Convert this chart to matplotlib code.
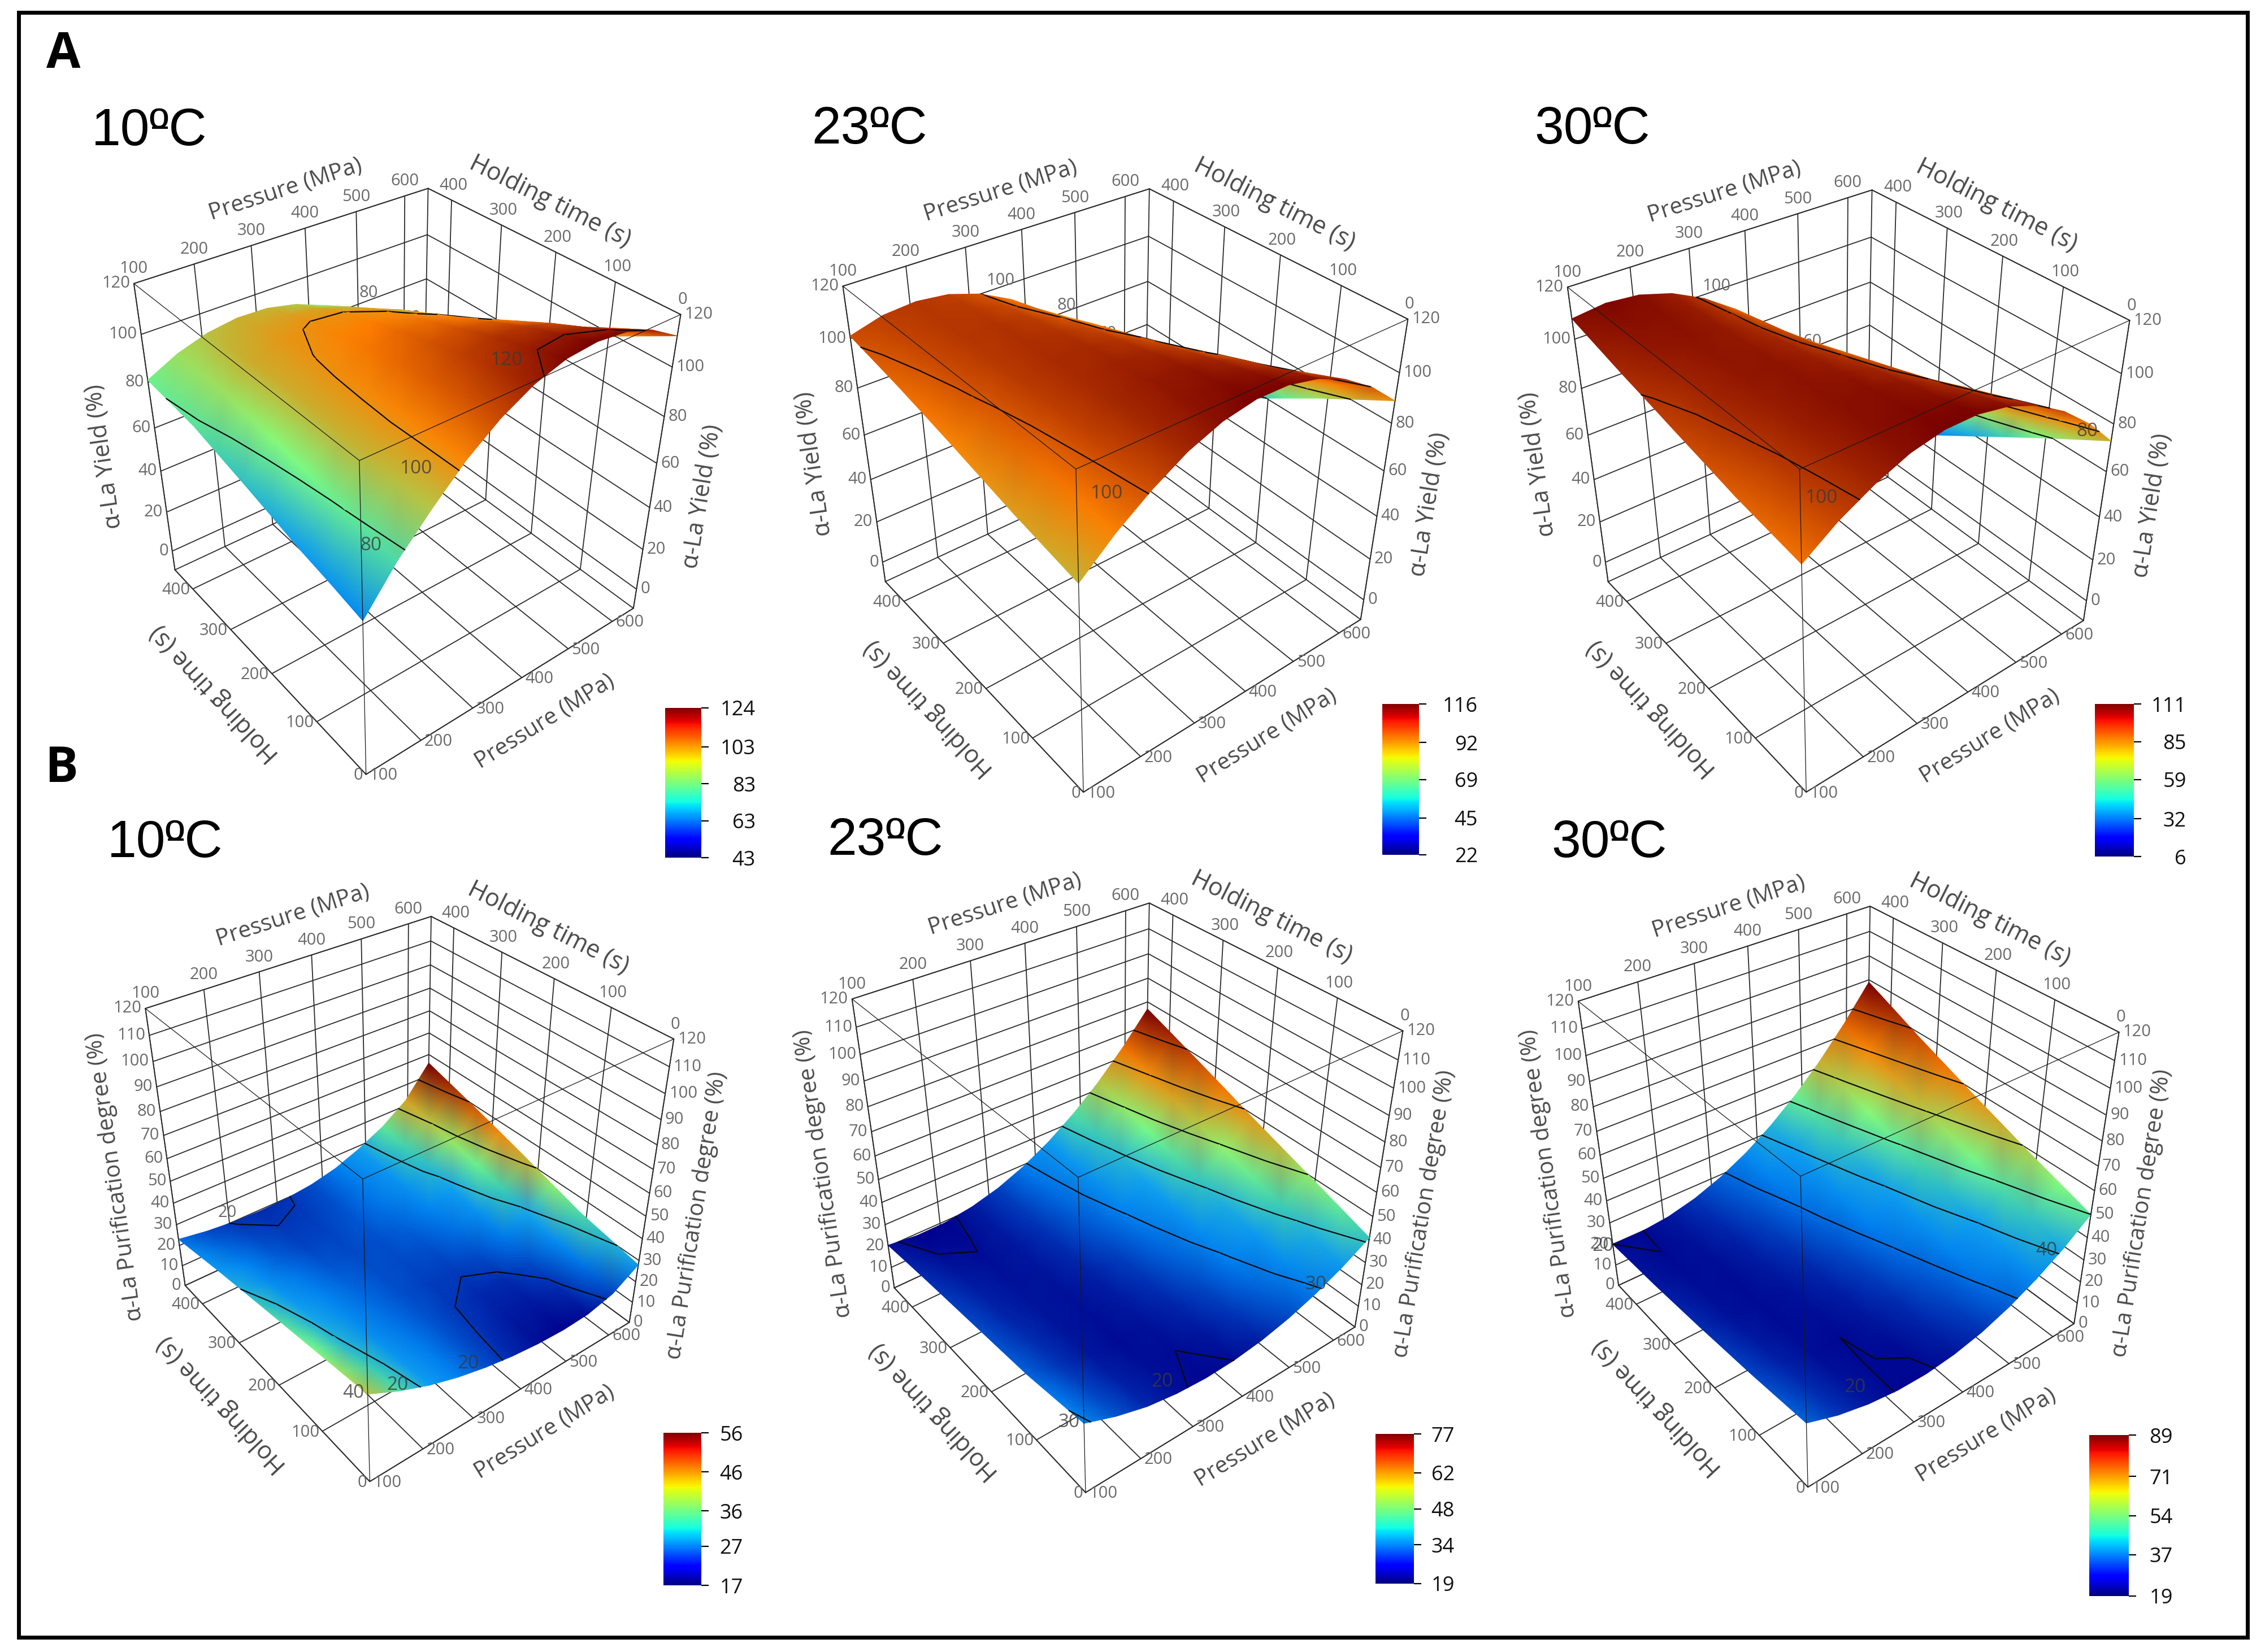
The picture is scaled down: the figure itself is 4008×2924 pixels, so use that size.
import numpy as np
import matplotlib
matplotlib.use("Agg")
import matplotlib.pyplot as plt
from matplotlib.collections import LineCollection
from matplotlib.colors import LinearSegmentedColormap, Normalize
from matplotlib.cm import ScalarMappable
from matplotlib.patches import Rectangle

plt.rcParams['font.family'] = ['Open Sans', 'DejaVu Sans']

W, H = 4008, 2924
PX = 72 / 100.0  # points per pixel at dpi 100

pressure = [100, 155, 210, 265, 320, 375, 430, 485, 540, 595, 650]
holding = [0, 56.25, 112.5, 168.75, 225, 281.25, 337.5, 393.75, 450]

# rows = holding time, columns = pressure
yield_10 = [
    [60.5, 77, 90.4, 102.6, 112, 118.8, 122.8, 124, 122.8, 118.8, 112],
    [63.5, 79, 91.6, 102.5, 110.7, 116.3, 119.2, 119.4, 117.1, 112.2, 104.5],
    [66, 80.7, 92.8, 102.4, 109.4, 113.8, 115.6, 114.8, 111.4, 105.5, 97],
    [69.3, 82.6, 93.4, 101.6, 107.4, 110.6, 111.3, 109.4, 105.1, 98.2, 88.8],
    [72.5, 84.4, 93.9, 100.8, 105.3, 107.4, 106.9, 104, 98.7, 90.8, 80.5],
    [75.5, 86, 94.2, 99.8, 103.1, 104, 102.4, 98.4, 92.1, 83.2, 72],
    [78.5, 87.6, 94.4, 98.8, 100.8, 100.5, 97.8, 92.8, 85.4, 75.6, 63.5],
    [79.8, 87.5, 92.9, 96, 96.8, 95.3, 91.5, 85.4, 77, 66.3, 53.3],
    [81, 87.3, 91.3, 93.1, 92.7, 90, 85.1, 77.9, 68.5, 56.9, 43],
]
yield_23 = [
    [80, 91.5, 100.8, 108.4, 113.4, 115.8, 115.6, 112.8, 107.4, 99.5, 89],
    [82.5, 93.5, 102.1, 108.5, 112.3, 113.6, 112.3, 108.4, 101.9, 92.8, 81.2],
    [85, 95.4, 103.3, 108.5, 111.2, 111.4, 108.9, 103.9, 96.3, 86.1, 73.4],
    [88, 97.3, 104, 108.1, 109.7, 108.7, 105.1, 99, 90.3, 79, 65.1],
    [91, 99.1, 104.7, 107.7, 108.1, 106, 101.3, 94, 84.2, 71.8, 56.8],
    [93.8, 100.7, 105.2, 107, 106.3, 103, 97.2, 88.8, 77.8, 64.3, 48.2],
    [96.5, 102.3, 105.6, 106.3, 104.4, 100, 93.1, 83.5, 71.4, 56.8, 39.6],
    [98.8, 103.5, 105.6, 105.2, 102.2, 96.7, 88.7, 78, 64.8, 49.1, 30.8],
    [101, 104.6, 105.6, 104.1, 100, 93.4, 84.2, 72.5, 58.2, 41.4, 22],
]
yield_30 = [
    [87, 96, 102.9, 108.1, 110.7, 110.7, 108.3, 103.3, 95.7, 85.6, 73],
    [89, 97.6, 103.8, 107.8, 109.3, 108.2, 104.7, 98.5, 89.8, 78.6, 64.8],
    [91, 99.1, 104.6, 107.5, 107.9, 105.7, 101, 93.7, 83.9, 71.5, 56.5],
    [93.8, 100.8, 105.2, 107, 106.3, 103, 97.1, 88.7, 77.7, 64.2, 48],
    [96.5, 102.4, 105.7, 106.5, 104.6, 100.2, 93.2, 83.7, 71.5, 56.8, 39.5],
    [99.3, 104, 106.3, 106, 103, 97.5, 89.3, 78.7, 65.4, 49.5, 31],
    [102, 105.7, 106.9, 105.4, 101.3, 94.7, 85.4, 73.6, 59.2, 42.1, 22.5],
    [105, 107.7, 107.7, 105.1, 99.9, 92.2, 81.8, 68.8, 53.3, 35.1, 14.3],
    [108, 109.6, 108.5, 104.8, 98.5, 89.7, 78.1, 64, 47.3, 28, 6],
]
purif_10 = [
    [40, 33.6, 28.4, 24.4, 21.4, 19.2, 17.8, 17.2, 17.8, 20.8, 28],
    [38, 32.1, 27.4, 24, 21.5, 19.6, 18.5, 18.3, 19.4, 23.2, 30.8],
    [36, 30.5, 26.4, 23.5, 21.5, 20, 19.2, 19.4, 21, 25.6, 33.5],
    [34, 29.2, 25.5, 23, 21.4, 20.5, 20.3, 21.2, 23.7, 29, 37.5],
    [32, 27.8, 24.6, 22.5, 21.3, 21, 21.4, 23, 26.4, 32.4, 41.5],
    [29.9, 26.1, 23.4, 21.7, 21.1, 21.3, 22.4, 24.7, 28.7, 35.2, 45.3],
    [27.8, 24.4, 22.1, 20.8, 20.8, 21.6, 23.4, 26.4, 31, 38, 49],
    [25.4, 22.7, 21, 20.1, 20.3, 21.4, 23.7, 27.5, 32.7, 40.3, 52.5],
    [23, 21, 19.8, 19.4, 19.8, 21.2, 24, 28.6, 34.4, 42.5, 56],
]
purif_23 = [
    [31, 26, 22.3, 20.3, 19.5, 20, 21.7, 24.7, 28.9, 34.3, 41],
    [29, 24.7, 21.7, 20.2, 20, 21, 23.4, 27, 31.9, 38, 45.5],
    [27, 23.4, 21, 20, 20.4, 22, 25, 29.2, 34.8, 41.8, 50],
    [26, 22.8, 20.8, 20.2, 21.1, 23.2, 26.8, 31.6, 37.8, 45.5, 54.4],
    [25, 22.1, 20.6, 20.4, 21.7, 24.4, 28.5, 34, 40.8, 49.1, 58.8],
    [24, 21.5, 20.4, 20.7, 22.5, 25.8, 30.4, 36.5, 44, 53, 63.5],
    [23, 20.9, 20.2, 21, 23.3, 27.1, 32.3, 39, 47.2, 56.9, 68.1],
    [21.8, 20, 19.8, 21.1, 23.9, 28.2, 34, 41.4, 50.2, 60.6, 72.6],
    [20.5, 19.1, 19.3, 21.1, 24.4, 29.3, 35.7, 43.7, 53.2, 64.3, 77],
]
purif_30 = [
    [29, 24.4, 21.4, 19.8, 19.6, 21, 23.8, 28.2, 34, 41.2, 50],
    [27.4, 23.4, 20.9, 19.9, 20.3, 22.3, 25.7, 30.7, 37.1, 45, 54.4],
    [25.8, 22.4, 20.4, 20, 21, 23.6, 27.6, 33.2, 40.2, 48.8, 58.8],
    [24.6, 21.7, 20.3, 20.4, 22, 25.2, 29.8, 36, 43.7, 52.9, 63.6],
    [23.3, 20.9, 20.1, 20.8, 23, 26.8, 32, 38.8, 47.1, 56.9, 68.3],
    [22.3, 20.5, 20.3, 21.5, 24.3, 28.7, 34.5, 41.9, 50.9, 61.3, 73.3],
    [21.3, 20.1, 20.4, 22.2, 25.6, 30.6, 37, 45, 54.6, 65.7, 78.3],
    [20.7, 20, 20.9, 23.3, 27.3, 32.8, 39.9, 48.5, 58.7, 70.4, 83.7],
    [20, 19.9, 21.3, 24.3, 28.9, 35, 42.7, 51.9, 62.7, 75.1, 89],
]

p_ticks = [100, 200, 300, 400, 500, 600]
t_ticks = [0, 100, 200, 300, 400]
yield_ticks = [0, 20, 40, 60, 80, 100, 120]
purif_ticks = [0, 10, 20, 30, 40, 50, 60, 70, 80, 90, 100, 110, 120]

yield_levels = [60, 80, 100, 120]
purif_levels = [20, 30, 40, 50, 60, 70, 80]

cbar_ticks_y10 = [43, 63, 83, 103, 124]
cbar_ticks_y23 = [22, 45, 69, 92, 116]
cbar_ticks_y30 = [6, 32, 59, 85, 111]
cbar_ticks_p10 = [17, 27, 36, 46, 56]
cbar_ticks_p23 = [19, 34, 48, 62, 77]
cbar_ticks_p30 = [19, 37, 54, 71, 89]

YIELD_LABEL = "\u03b1-La Yield (%)"
PURIF_LABEL = "\u03b1-La Purification degree (%)"

surface_cmap = LinearSegmentedColormap.from_list("surf", [
    (0.00, '#00008c'), (0.09, '#0040c0'), (0.18, '#0080f0'), (0.30, '#10a0f0'),
    (0.40, '#40d0b0'), (0.50, '#80ff80'), (0.62, '#c8b030'), (0.75, '#ff8000'),
    (0.87, '#c04000'), (1.00, '#780000')])

P_MAX = 650.0
T_MAX = 450.0
Z_TOP = 120.0


def fit_camera(corners, zmin):
    # corners: L, B, R, N top of box then l, r, n on the floor, in pixels
    world = [(0, 1, 1), (1, 1, 1), (1, 0, 1), (0, 0, 1), (0, 1, 0), (1, 0, 0), (0, 0, 0)]
    rows = []
    for (u, v, w), (x, y) in zip(world, corners):
        x, y = x / 4000.0, y / 4000.0
        rows.append([u, v, w, 1, 0, 0, 0, 0, -x*u, -x*v, -x*w, -x])
        rows.append([0, 0, 0, 0, u, v, w, 1, -y*u, -y*v, -y*w, -y])
    m = np.linalg.svd(np.array(rows))[2][-1].reshape(3, 4)
    if m[2] @ np.array([0.5, 0.5, 0.5, 1]) < 0:
        m = -m

    def project(p, t, z):
        p, t, z = np.asarray(p, float), np.asarray(t, float), np.asarray(z, float)
        v = np.stack([(p - 100) / (P_MAX - 100), t / T_MAX, (z - zmin) / (Z_TOP - zmin), np.ones_like(p)])
        q = np.tensordot(m, v, axes=1)
        return q[0] / q[2] * 4000, q[1] / q[2] * 4000, q[2]
    return project


def angle(a, b):
    return np.degrees(np.arctan2(-(b[1] - a[1]), b[0] - a[0]))


def line3d(ax, proj, a, b, color='#2b2b2b', lw=1.3, zorder=1):
    x, y, _ = proj([a[0], b[0]], [a[1], b[1]], [a[2], b[2]])
    ax.plot(x, y, color=color, lw=lw, zorder=zorder, solid_capstyle='round')


def draw_box(ax, proj, zmin, zticks):
    for p in p_ticks:
        line3d(ax, proj, (p, T_MAX, zmin), (p, T_MAX, Z_TOP))
        line3d(ax, proj, (p, 0, zmin), (p, T_MAX, zmin))
    for t in t_ticks:
        line3d(ax, proj, (P_MAX, t, zmin), (P_MAX, t, Z_TOP))
        line3d(ax, proj, (100, t, zmin), (P_MAX, t, zmin))
    for z in zticks:
        line3d(ax, proj, (100, T_MAX, z), (P_MAX, T_MAX, z))
        line3d(ax, proj, (P_MAX, 0, z), (P_MAX, T_MAX, z))
    # box outline at the back
    line3d(ax, proj, (100, T_MAX, Z_TOP), (P_MAX, T_MAX, Z_TOP))
    line3d(ax, proj, (P_MAX, T_MAX, Z_TOP), (P_MAX, 0, Z_TOP))
    line3d(ax, proj, (100, T_MAX, zmin), (100, T_MAX, Z_TOP))
    line3d(ax, proj, (P_MAX, 0, zmin), (P_MAX, 0, Z_TOP))
    line3d(ax, proj, (P_MAX, T_MAX, zmin), (P_MAX, T_MAX, Z_TOP))
    line3d(ax, proj, (100, T_MAX, zmin), (P_MAX, T_MAX, zmin))
    line3d(ax, proj, (P_MAX, 0, zmin), (P_MAX, T_MAX, zmin))
    line3d(ax, proj, (100, 0, zmin), (100, T_MAX, zmin))
    line3d(ax, proj, (100, 0, zmin), (P_MAX, 0, zmin))


def draw_labels(ax, proj, zmin, zticks, zlabel):
    kw = dict(color='#6a6a6a', fontsize=21)
    for p in p_ticks:
        x, y, _ = proj(p, T_MAX, Z_TOP)
        ax.text(x, y - 26, str(p), ha='center', va='center', **kw)
        x, y, _ = proj(p, 0, zmin)
        ax.text(x + 6, y + 2, str(p), ha='left', va='center', **kw)
    for t in t_ticks:
        x, y, _ = proj(P_MAX, t, Z_TOP)
        ax.text(x + 3, y - 26, str(t), ha='center', va='center', **kw)
        x, y, _ = proj(100, t, zmin)
        ax.text(x - 5, y + 2, str(t), ha='right', va='center', **kw)
    for z in zticks:
        x, y, _ = proj(100, T_MAX, z)
        ax.text(x - 7, y, str(z), ha='right', va='center', **kw)
        x, y, _ = proj(P_MAX, 0, z)
        ax.text(x + 7, y, str(z), ha='left', va='center', **kw)

    def corner(p, t, z):
        x, y, _ = proj(p, t, z)
        return float(x), float(y)

    zsize = 29 if zlabel == PURIF_LABEL else 30
    titles = [
        ("Pressure (MPa)", 29, corner(100, T_MAX, Z_TOP), corner(P_MAX, T_MAX, Z_TOP), (8, -82)),
        ("Holding time (s)", 31, corner(P_MAX, T_MAX, Z_TOP), corner(P_MAX, 0, Z_TOP), (-8, -88)),
        (zlabel, zsize, corner(100, T_MAX, zmin), corner(100, T_MAX, Z_TOP), (-88, 53)),
        (zlabel, zsize, corner(P_MAX, 0, zmin), corner(P_MAX, 0, Z_TOP), (80, 62)),
        ("Holding time (s)", 31, corner(100, 0, zmin), corner(100, T_MAX, zmin), (-99, 38)),
        ("Pressure (MPa)", 29, corner(100, 0, zmin), corner(P_MAX, 0, zmin), (80, 54)),
    ]
    for text, size, a, b, off in titles:
        ax.text((a[0] + b[0]) / 2 + off[0], (a[1] + b[1]) / 2 + off[1], text, color='#4a4a4a',
                fontsize=size, rotation=angle(a, b), rotation_mode='anchor', ha='center', va='center')


def draw_surface(ax, proj, values, levels, norm):
    Z = np.array(values, float)
    P, T = np.meshgrid(pressure, holding)
    X, Y, D = proj(P, T, Z)

    # contour lines worked out in the pressure / time plane
    tmp = plt.figure()
    cs = tmp.add_subplot().contour(pressure, holding, Z, levels=levels)
    cell_segs = {}
    for level, polys in zip(levels, cs.allsegs):
        for poly in polys:
            lx, ly, _ = proj(poly[:, 0], poly[:, 1], np.full(len(poly), level))
            for k in range(len(poly) - 1):
                mid = (poly[k] + poly[k + 1]) / 2
                i = min(np.searchsorted(pressure, mid[0]) - 1, len(pressure) - 2)
                j = min(np.searchsorted(holding, mid[1]) - 1, len(holding) - 2)
                cell_segs.setdefault((max(j, 0), max(i, 0)), []).append([(lx[k], ly[k]), (lx[k + 1], ly[k + 1])])
    plt.close(tmp)

    # painter's order, far cells first, so the ridge hides what lies behind it
    cells = [(j, i) for j in range(Z.shape[0] - 1) for i in range(Z.shape[1] - 1)]
    cells.sort(key=lambda c: -D[c[0]:c[0] + 2, c[1]:c[1] + 2].mean())
    for n, (j, i) in enumerate(cells):
        xs = [X[j, i], X[j, i + 1], X[j + 1, i + 1], X[j + 1, i]]
        ys = [Y[j, i], Y[j, i + 1], Y[j + 1, i + 1], Y[j + 1, i]]
        cs_ = [Z[j, i], Z[j, i + 1], Z[j + 1, i + 1], Z[j + 1, i]]
        ax.tripcolor(xs, ys, [[0, 1, 2], [0, 2, 3]], cs_, shading='gouraud',
                     cmap=surface_cmap, norm=norm, zorder=3 + n * 0.01)
        if (j, i) in cell_segs:
            ax.add_collection(LineCollection(cell_segs[(j, i)], colors='#0a0a0a', linewidths=1.6,
                                             capstyle='round', zorder=3 + n * 0.01 + 0.005))


def draw_colorbar(fig, box, ticks, right_x):
    x0, y0, x1, y1 = box
    cax = fig.add_axes([x0 / W, 1 - y1 / H, (x1 - x0) / W, (y1 - y0) / H])
    norm = Normalize(ticks[0], ticks[-1])
    cb = fig.colorbar(ScalarMappable(norm=norm, cmap='jet'), cax=cax, ticks=ticks)
    cb.outline.set_visible(False)
    cax.tick_params(axis='y', length=9, width=1.6, labelsize=26, labelcolor='#111111',
                    pad=(right_x - x1) * PX - 9)
    for tick, v in zip(cax.yaxis.get_major_ticks(), ticks):
        c = plt.get_cmap('jet')(norm(v))
        tick.tick2line.set_color(c)
        tick.label2.set_ha('right')


panels = [
    dict(data=yield_10, zmin=-10, zticks=yield_ticks, label=YIELD_LABEL, levels=yield_levels,
         cbar=cbar_ticks_y10, cbox=(1177, 1253, 1241, 1518), cright=1337,
         title="10\u00baC", title_xy=(162, 257),
         corners=[(237, 502), (757, 333), (1205, 558), (636, 814), (310, 1009), (1121, 1076), (647, 1371)],
         back_text=[("80", 652, 518), ("60", 728, 562)],
         front_text=[("120", 897, 638), ("100", 737, 829), ("80", 656, 966)]),
    dict(data=yield_23, zmin=-10, zticks=yield_ticks, label=YIELD_LABEL, levels=yield_levels,
         cbar=cbar_ticks_y23, cbox=(2446, 1246, 2511, 1513), cright=2615,
         title="23\u00baC", title_xy=(1436, 254),
         corners=[(1492, 505), (2032, 334), (2492, 567), (1905, 830), (1568, 1031), (2409, 1095), (1914, 1402)],
         back_text=[("100", 1770, 497), ("80", 1887, 540), ("60", 1959, 591)],
         front_text=[("100", 1959, 873)]),
    dict(data=yield_30, zmin=-10, zticks=yield_ticks, label=YIELD_LABEL, levels=yield_levels,
         cbar=cbar_ticks_y30, cbox=(3707, 1246, 3776, 1516), cright=3869,
         title="30\u00baC", title_xy=(2715, 254),
         corners=[(2774, 507), (3311, 336), (3769, 569), (3186, 830), (2847, 1031), (3688, 1097), (3193, 1402)],
         back_text=[("100", 3037, 507), ("60", 3207, 604)],
         front_text=[("100", 3224, 882), ("80", 3693, 764)]),
    dict(data=purif_10, zmin=0, zticks=purif_ticks, label=PURIF_LABEL, levels=purif_levels,
         cbar=cbar_ticks_p10, cbox=(1174, 2536, 1241, 2806), cright=1315,
         title="10\u00baC", title_xy=(190, 1517),
         corners=[(258, 1783), (761, 1622), (1193, 1841), (643, 2087), (329, 2277), (1115, 2339), (651, 2622)],
         back_text=[("20", 402, 2146)],
         front_text=[("20", 704, 2452), ("20", 829, 2413), ("40", 625, 2465)]),
    dict(data=purif_23, zmin=0, zticks=purif_ticks, label=PURIF_LABEL, levels=purif_levels,
         cbar=cbar_ticks_p23, cbox=(2434, 2538, 2502, 2803), cright=2574,
         title="23\u00baC", title_xy=(1464, 1513),
         corners=[(1508, 1768), (2033, 1598), (2483, 1826), (1908, 2083), (1583, 2280), (2398, 2348), (1920, 2642)],
         back_text=[],
         front_text=[("30", 1892, 2517), ("20", 2057, 2446), ("30", 2329, 2274)]),
    dict(data=purif_30, zmin=0, zticks=purif_ticks, label=PURIF_LABEL, levels=purif_levels,
         cbar=cbar_ticks_p30, cbox=(3697, 2540, 3767, 2825), cright=3845,
         title="30\u00baC", title_xy=(2745, 1517),
         corners=[(2793, 1771), (3308, 1604), (3750, 1828), (3187, 2082), (2865, 2276), (3671, 2342), (3197, 2632)],
         back_text=[],
         front_text=[("20", 3283, 2456), ("40", 3621, 2213), ("20", 2837, 2206)]),
]

fig = plt.figure(figsize=(W / 100, H / 100), dpi=100, facecolor='white')
ax = fig.add_axes([0, 0, 1, 1])
ax.set_xlim(0, W)
ax.set_ylim(H, 0)
ax.autoscale(False)
ax.axis('off')

ax.add_patch(Rectangle((33, 22), 3944, 2876, fill=False, ec='black', lw=5, zorder=20))
ax.text(112, 97, "A", fontsize=63, fontweight='bold', ha='center', va='center', color='black')
ax.text(109, 1361, "B", fontsize=63, fontweight='bold', ha='center', va='center', color='black')

for pn in panels:
    proj = fit_camera(pn['corners'], pn['zmin'])
    draw_box(ax, proj, pn['zmin'], pn['zticks'])
    draw_labels(ax, proj, pn['zmin'], pn['zticks'], pn['label'])
    for s, x, y in pn['back_text']:
        ax.text(x, y, s, fontsize=21, color='#6a6a6a', ha='center', va='center', zorder=2)
    norm = Normalize(pn['cbar'][0], pn['cbar'][-1])
    draw_surface(ax, proj, pn['data'], pn['levels'], norm)
    for s, x, y in pn['front_text']:
        ax.text(x, y, s, fontsize=24, color='#3a3a3a', ha='center', va='center', alpha=0.8, zorder=6)
    # thin front edges of the box run over the surface
    top = Z_TOP
    line3d(ax, proj, (100, 0, top), (100, T_MAX, top), color='#1a1a1a', lw=0.9, zorder=7)
    line3d(ax, proj, (100, 0, top), (P_MAX, 0, top), color='#1a1a1a', lw=0.9, zorder=7)
    line3d(ax, proj, (100, 0, pn['zmin']), (100, 0, top), color='#1a1a1a', lw=0.9, zorder=7)
    tx, ty = pn['title_xy']
    ax.text(tx, ty, pn['title'], fontsize=67, color='black',
            family=['Liberation Sans', 'DejaVu Sans'], ha='left', va='baseline')
    # the degree sign in the reference has a bar under it
    ax.plot([tx + 107, tx + 135], [ty - 31, ty - 31], color='black', lw=3, solid_capstyle='butt')
    draw_colorbar(fig, pn['cbox'], pn['cbar'], pn['cright'])

fig.savefig("out.png", dpi=100)
